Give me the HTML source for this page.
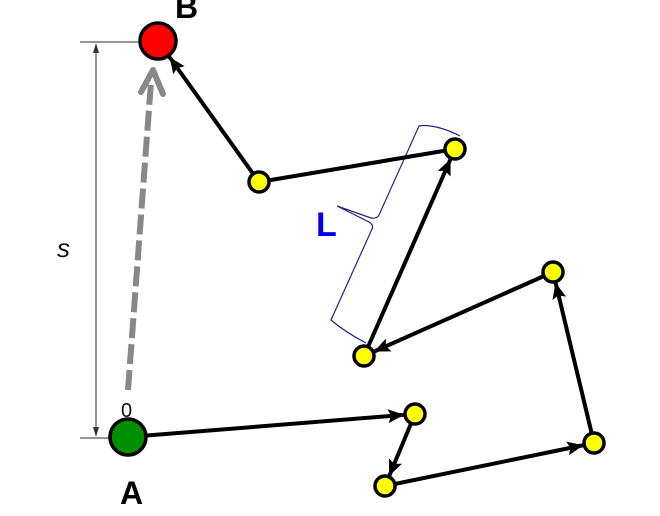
<!DOCTYPE html>
<html><head><meta charset="utf-8"><style>
html,body{margin:0;padding:0;background:#fff;width:660px;height:516px;overflow:hidden}
svg{display:block}
</style></head><body>
<svg width="660" height="516" viewBox="0 0 660 516" xmlns="http://www.w3.org/2000/svg">
<defs>
<marker id="ay" markerUnits="userSpaceOnUse" markerWidth="16" markerHeight="14" refX="27" refY="7" orient="auto" viewBox="0 0 16 14" overflow="visible">
<path d="M0,0 L16,7 L0,14 L3,7 Z" fill="#000"/></marker>
<marker id="ab" markerUnits="userSpaceOnUse" markerWidth="16" markerHeight="14" refX="36" refY="7" orient="auto" viewBox="0 0 16 14" overflow="visible">
<path d="M0,0 L16,7 L0,14 L3,7 Z" fill="#000"/></marker>
</defs>
<g stroke="#555" stroke-width="1.2" fill="none">
<line x1="80" y1="42" x2="140" y2="42"/>
<line x1="80" y1="438" x2="112" y2="438"/>
<line x1="96" y1="50" x2="96" y2="430"/>
</g>
<path d="M96,43 L93,53 L99,53 Z M96,437 L93,427 L99,427 Z" fill="#333"/>
<text x="57" y="257" font-family="Liberation Sans, sans-serif" font-style="italic" font-size="26" fill="#111">s</text>
<line x1="128" y1="390" x2="151" y2="82" stroke="#888" stroke-width="6" stroke-dasharray="20,6"/>
<path d="M141,92 L153,70 L163,94" stroke="#888" stroke-width="6" fill="none" stroke-linecap="round" stroke-linejoin="round"/>
<text x="121" y="417" font-family="Liberation Sans, sans-serif" font-size="20" fill="#111">0</text>
<path d="M460,136 C445,128 428,124 419,126 L379,215 Q377,219 371,218 L337,206 L369,222 Q374,225 372,229 L331,320 Q345,332 366,343" stroke="#22228a" stroke-width="1.2" fill="none"/>
<text x="316" y="236" font-family="Liberation Sans, sans-serif" font-weight="bold" font-size="34" fill="#0000ee">L</text>
<g stroke="#000" stroke-width="4" fill="none">
<line x1="128" y1="437" x2="415" y2="414" marker-end="url(#ay)"/>
<line x1="415" y1="414" x2="385" y2="486" marker-end="url(#ay)"/>
<line x1="385" y1="486" x2="594" y2="443" marker-end="url(#ay)"/>
<line x1="594" y1="443" x2="553" y2="272" marker-end="url(#ay)"/>
<line x1="553" y1="272" x2="364" y2="356" marker-end="url(#ay)"/>
<line x1="364" y1="356" x2="455" y2="149" marker-end="url(#ay)"/>
<line x1="455" y1="149" x2="259" y2="182"/>
<line x1="259" y1="182" x2="158" y2="41" marker-end="url(#ab)"/>
</g>
<g stroke="#000" stroke-width="3.5">
<circle cx="158" cy="41" r="18" fill="#ff0000"/>
<circle cx="128" cy="437" r="18" fill="#008f00"/>
<g fill="#ffff00">
<circle cx="259" cy="182" r="10"/>
<circle cx="455" cy="149" r="10"/>
<circle cx="364" cy="356" r="10"/>
<circle cx="553" cy="272" r="10"/>
<circle cx="594" cy="443" r="10"/>
<circle cx="385" cy="486" r="10"/>
<circle cx="415" cy="414" r="10"/>
</g></g>
<text x="175" y="18" font-family="Liberation Sans, sans-serif" font-weight="bold" font-size="32" fill="#000">B</text>
<text x="120" y="504" font-family="Liberation Sans, sans-serif" font-weight="bold" font-size="32" fill="#000">A</text>
</svg>
</body></html>
